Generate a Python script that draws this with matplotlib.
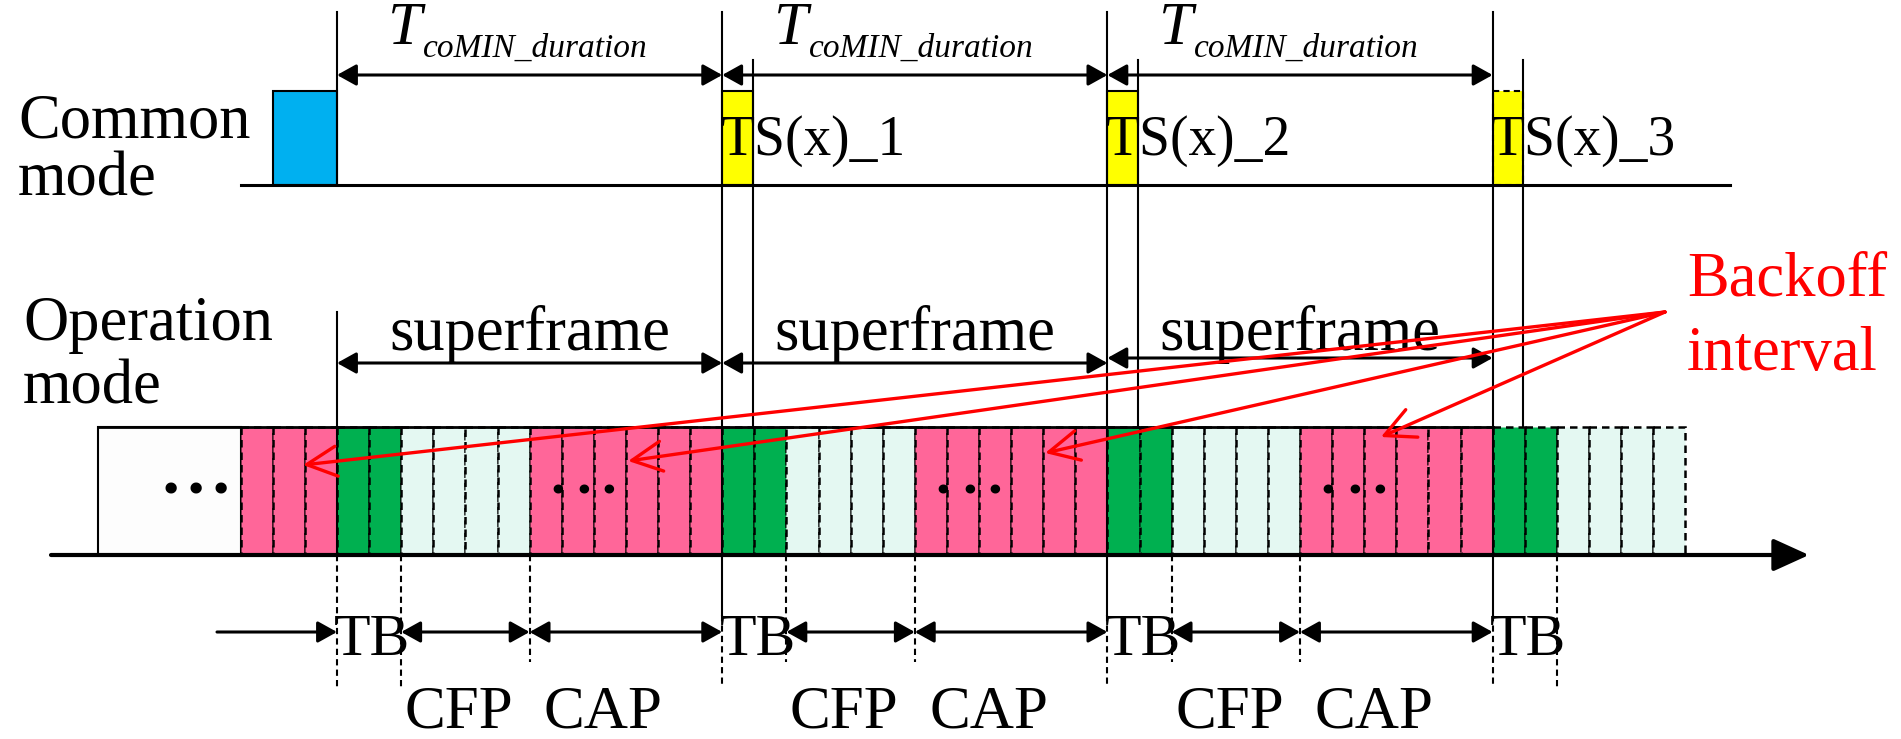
import matplotlib
matplotlib.use('Agg')
import matplotlib.pyplot as plt
from matplotlib.patches import Rectangle

plt.rcParams['font.family'] = 'Liberation Serif'

# superframe structure, in slots
parts = ['TB', 'CFP', 'CAP']
part_slots = [2, 4, 6]
part_colors = {'TB': '#00B050', 'CFP': '#E4F8F2', 'CAP': '#FF6699'}
n_frames = 3
lead_parts = [('CAP', 3)]               # tail of the previous CAP
tail_parts = [('TB', 2), ('CFP', 4)]    # start of the next superframe
ts_labels = ['TS(x)_1', 'TS(x)_2', 'TS(x)_3']
period_main, period_sub = 'T', 'coMIN_duration'
# backoff arrow targets: (slot, pixel row)
backoff_targets = [(-1.06, 465), (9.07, 461), (22.06, 453), (32.52, 437)]
# lower end of the dashed guide at each boundary
guide_ends = {0: 687, 2: 687, 6: 662, 12: 687, 14: 662, 18: 662,
              24: 687, 26: 662, 30: 662, 36: 687, 38: 687}
# "..." inside the CAP blocks (slot offsets within a superframe)
cap_dots = [6.88, 7.7, 8.48]

SLOT_PX = 32.1
X0_PX = 337
W, H = 1901, 739
frame = sum(part_slots)


def px(x):
    return (x - X0_PX) / SLOT_PX


fig = plt.figure(figsize=(W / 100, H / 100), dpi=100)
ax = fig.add_axes([0, 0, 1, 1])
ax.set_xlim(px(0), px(W))
ax.set_ylim(H, 0)
ax.axis('off')

Y_TOP, Y_AX = 427, 555
dash = (0, (3, 2))

# ---- operation mode slots
slots = []
s = -sum(n for _, n in lead_parts)
seq = lead_parts + [(p, n) for _ in range(n_frames) for p, n in zip(parts, part_slots)] + tail_parts
for p, n in seq:
    for i in range(n):
        slots.append((s + i, p))
    s += n

ax.add_patch(Rectangle((px(98), Y_TOP), slots[0][0] - px(98), Y_AX - Y_TOP,
                       facecolor='#FDFDFD', edgecolor='black', lw=1.5, zorder=1))
for x, p in slots:
    ax.add_patch(Rectangle((x, Y_TOP), 1, Y_AX - Y_TOP, facecolor=part_colors[p],
                           edgecolor='black', lw=1.8, ls=dash, zorder=1))
ax.plot([px(98), n_frames * frame], [Y_TOP, Y_TOP], color='black', lw=2, zorder=3)

# time axis
ax.annotate('', xy=(px(1809), Y_AX), xytext=(px(51), Y_AX),
            arrowprops=dict(arrowstyle='-|>,head_length=0.55,head_width=0.25',
                            mutation_scale=40, lw=3, color='black',
                            shrinkA=0, shrinkB=0), zorder=4)

# dots
for xd in [px(173), px(198), px(223)]:
    ax.text(xd, 493, '.', fontsize=50, fontweight='bold', style='italic',
            ha='center', va='baseline', zorder=4)
for k in range(n_frames):
    for xd in cap_dots:
        ax.text(k * frame + xd, 494, '.', fontsize=42, fontweight='bold',
                ha='center', va='baseline', zorder=4)

# ---- common mode
Y_BASE, Y_RECT = 185, 91
ax.plot([-3, px(1730)], [Y_BASE, Y_BASE], color='black', lw=2.2, zorder=3)
ax.add_patch(Rectangle((-2, Y_RECT), 2, Y_BASE - Y_RECT, facecolor='#00B0F0',
                       edgecolor='black', lw=1.5, zorder=2))
for k, lab in enumerate(ts_labels):
    x = (k + 1) * frame
    ax.add_patch(Rectangle((x, Y_RECT), 0.95, Y_BASE - Y_RECT, facecolor='#FFFF00',
                           edgecolor='black', lw=1.5, zorder=2,
                           ls=dash if k == len(ts_labels) - 1 else '-'))
    ax.text(x - 0.05, 155, lab, fontsize=40, ha='left', va='baseline', zorder=4)

# vertical guides
ax.plot([0, 0], [12, Y_BASE], color='black', lw=1.5, zorder=3)
ax.plot([0, 0], [312, Y_AX], color='black', lw=1.5, zorder=3)
for k in range(1, n_frames + 1):
    x = k * frame
    ax.plot([x, x], [12, 615], color='black', lw=1.5, zorder=3)
    ax.plot([x + 0.95, x + 0.95], [60, Y_TOP], color='black', lw=1.5, zorder=3)
for x, yend in guide_ends.items():
    y0 = 615 if (x % frame == 0 and x > 0) else Y_AX
    ax.plot([x, x], [y0, yend], color='black', lw=1.5, ls=dash, zorder=3)

arrow_kw = dict(arrowstyle='<|-|>,head_length=0.45,head_width=0.25',
                mutation_scale=26, lw=2.2, color='black', shrinkA=0, shrinkB=0)

# period arrows and superframe arrows
for k in range(n_frames):
    a, b = k * frame, (k + 1) * frame
    ax.annotate('', xy=(b, 75), xytext=(a, 75), arrowprops=arrow_kw, zorder=4)
    ax.text(a + 1.6, 44, period_main, fontsize=44, style='italic',
            ha='left', va='baseline')
    ax.text(a + 1.6 + 35 / SLOT_PX, 57, period_sub, fontsize=24, style='italic',
            ha='left', va='baseline')
    ysf = 358 if k == n_frames - 1 else 363
    ax.annotate('', xy=(b, ysf), xytext=(a, ysf), arrowprops=arrow_kw, zorder=4)
    ax.text((a + b) / 2, 350, 'superframe', fontsize=45, ha='center', va='baseline')

# ---- bottom TB / CFP / CAP markers
Y_BR = 632
ax.annotate('', xy=(0, Y_BR), xytext=(px(217), Y_BR),
            arrowprops=dict(arrow_kw, arrowstyle='-|>,head_length=0.45,head_width=0.25'),
            zorder=4)
for k in range(n_frames + 1):
    x0 = k * frame
    ax.text(x0 + 1.1, 655, 'TB', fontsize=43, ha='center', va='baseline', zorder=4)
    if k == n_frames:
        break
    b1 = x0 + part_slots[0]
    b2 = b1 + part_slots[1]
    b3 = b2 + part_slots[2]
    ax.annotate('', xy=(b2, Y_BR), xytext=(b1, Y_BR), arrowprops=arrow_kw, zorder=4)
    ax.annotate('', xy=(b3, Y_BR), xytext=(b2, Y_BR), arrowprops=arrow_kw, zorder=4)
    ax.text(x0 + 3.8, 728, 'CFP', fontsize=44, ha='center', va='baseline')
    ax.text(x0 + 8.3, 728, 'CAP', fontsize=44, ha='center', va='baseline')

# ---- labels on the left
ax.text(px(18), 137, 'Common', fontsize=45, ha='left', va='baseline')
ax.text(px(18), 195, 'mode', fontsize=45, ha='left', va='baseline')
ax.text(px(23), 340, 'Operation', fontsize=45, ha='left', va='baseline')
ax.text(px(23), 403, 'mode', fontsize=45, ha='left', va='baseline')

# ---- backoff annotation
ax.text(px(1687), 295, 'Backoff', fontsize=45, color='red', ha='left', va='baseline')
ax.text(px(1687), 370, 'interval', fontsize=45, color='red', ha='left', va='baseline')
src = (px(1665), 312)
for tx, ty in backoff_targets:
    ax.annotate('', xy=(tx, ty), xytext=src,
                arrowprops=dict(arrowstyle='->,head_length=0.9,head_width=0.45',
                                mutation_scale=24, lw=2.4, color='red',
                                shrinkA=0, shrinkB=0), zorder=6)

fig.savefig('out.png', dpi=100)
